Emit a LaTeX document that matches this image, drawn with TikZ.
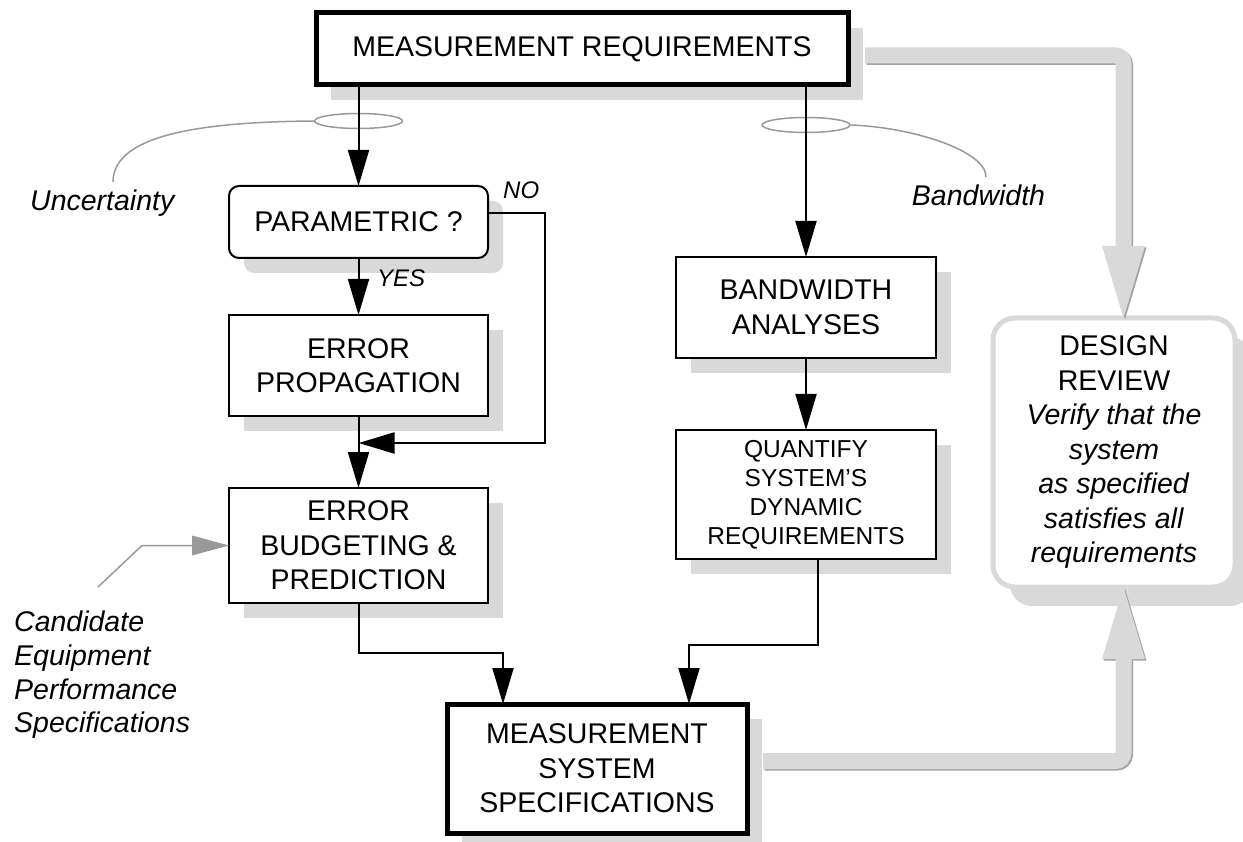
\documentclass[tikz,border=0pt]{standalone}
\usepackage{fontspec}
\setmainfont{Liberation Sans}
\usetikzlibrary{arrows.meta,shapes.geometric,shadows}

\definecolor{shgray}{HTML}{D9D9D9}
\definecolor{pipedark}{HTML}{A3A3A3}
\definecolor{leadgray}{HTML}{999999}

\newcommand{\bigtxt}{\fontsize{28.5pt}{34.5pt}\selectfont}
\newcommand{\midtxt}{\fontsize{24.5pt}{29pt}\selectfont}
\newcommand{\smalltxt}{\fontsize{24pt}{28pt}\selectfont}
\newcommand{\candtxt}{\fontsize{28.5pt}{33.7pt}\selectfont}

\begin{document}
\begin{tikzpicture}[x=1pt,y=-1pt,
  shadowed/.style={drop shadow={shadow xshift=15pt,shadow yshift=-15pt,fill=shgray,opacity=1}},
  box/.style={draw,line width=2pt,fill=white,inner sep=0pt,outer sep=0pt,
              align=center,font=\bigtxt,shadowed},
  thickbox/.style={box,line width=5pt},
  review/.style={draw=shgray,line width=5pt,fill=white,rounded corners=22pt,
              inner sep=0pt,outer sep=0pt,align=center,font=\bigtxt,
              drop shadow={shadow xshift=17pt,shadow yshift=-19pt,fill=shgray,opacity=1}},
  lab/.style={inner sep=0pt,font=\bigtxt\itshape},
  smalllab/.style={inner sep=0pt,font=\smalltxt\itshape},
  ring/.style={draw=leadgray,line width=1.5pt,ellipse,minimum width=88pt,
              minimum height=15pt,inner sep=0pt},
  lead/.style={draw=leadgray,line width=1.5pt},
  flow/.style={line width=2pt,-{Triangle[length=36pt,width=21pt]}},
  feed/.style={draw=leadgray,line width=1.5pt,
              -{Triangle[length=37pt,width=20pt,line width=0pt]}},
  pipe/.style={line width=16pt,rounded corners=8pt,
              -{Triangle[length=72pt,width=43pt,line width=0pt]}}
]
\useasboundingbox (0,0) rectangle (1243,842);

% process boxes
\node[thickbox,minimum width=532pt,minimum height=72pt] (top) at (582,49)
  {MEASUREMENT REQUIREMENTS};
\node[box,rounded corners=10pt,minimum width=259pt,minimum height=72pt] (param) at (358.5,222)
  {PARAMETRIC ?};
\node[box,minimum width=259pt,minimum height=101pt] (errprop) at (358.5,365.5)
  {ERROR\\PROPAGATION};
\node[box,minimum width=259pt,minimum height=115pt] (budget) at (358.5,545.5)
  {ERROR\\BUDGETING \&\\PREDICTION};
\node[box,minimum width=260pt,minimum height=101pt] (bw) at (806,307.5)
  {BANDWIDTH\\ANALYSES};
\node[box,font=\midtxt,minimum width=260pt,minimum height=129pt] (quant) at (806,494.5)
  {QUANTIFY\\SYSTEM’S\\DYNAMIC\\REQUIREMENTS};
\node[thickbox,minimum width=300pt,minimum height=129pt] (msys) at (597,768.5)
  {MEASUREMENT\\SYSTEM\\SPECIFICATIONS};
\node[review,minimum width=242pt,minimum height=269pt] (dr) at (1114,452.5)
  {DESIGN\\REVIEW\\\textit{Verify that the}\\\textit{system}\\\textit{as specified}\\
   \textit{satisfies all}\\\textit{requirements}};

% side labels
\node[lab,anchor=west] (unc) at (30,203) {Uncertainty};
\node[lab] (bwl) at (978.5,195) {Bandwidth};
\node[lab,font=\candtxt\itshape,anchor=north west,align=left] (cand) at (14,611)
  {Candidate\\Equipment\\Performance\\Specifications};
\node[smalllab,anchor=west] (no) at (503,190) {NO};
\node[smalllab,anchor=west] (yes) at (377,278) {YES};

% grouping rings on the two requirement lines
\node[ring] (r1) at (358.5,121) {};
\node[ring] (r2) at (806,125) {};
\coordinate (u1) at (113,182);
\coordinate (b1) at (986,177);
\draw[lead] (r1.west) .. controls (200,122) and (113,135) .. (u1);
\draw[lead] (r2.east) .. controls (910,127) and (986,150) .. (b1);

% left branch
\coordinate (nojoin) at (358.5,443);
\draw[flow] (param.north |- top.south) -- (param.north);
\draw[flow] (param.south) -- (errprop.north);
\draw[flow] ([yshift=9pt]param.east) -- ++(57,0) |- (nojoin);
\draw[flow] (errprop.south) -- (budget.north);
\draw[flow] (budget.south) -- ++(0,50) -| ([xshift=56pt]msys.north west);

% candidate equipment feed
\coordinate (c0) at (98,587);
\coordinate (c1) at (142,545.5);
\draw[feed] (c0) -- (c1) -- (budget.west);

% right branch
\draw[flow] (bw.north |- top.south) -- (bw.north);
\draw[flow] (bw.south) -- (quant.north);
\draw[flow] ([xshift=12pt]quant.south) -- ++(0,86) -| ([xshift=242pt]msys.north west);

% review pipes: darker edge first, light body on top
\begin{scope}[transform canvas={xshift=1.5pt,yshift=-1.5pt}]
  \draw[pipe,pipedark] ([shift={(17pt,-6.5pt)}]top.east) -| ([xshift=9.5pt]dr.north);
  \draw[pipe,pipedark] ([shift={(16pt,7.5pt)}]msys.east) -| ([xshift=9.5pt]dr.south);
\end{scope}
\draw[pipe,shgray] ([shift={(17pt,-6.5pt)}]top.east) -| ([xshift=9.5pt]dr.north);
\draw[pipe,shgray] ([shift={(16pt,7.5pt)}]msys.east) -| ([xshift=9.5pt]dr.south);
\end{tikzpicture}
\end{document}
